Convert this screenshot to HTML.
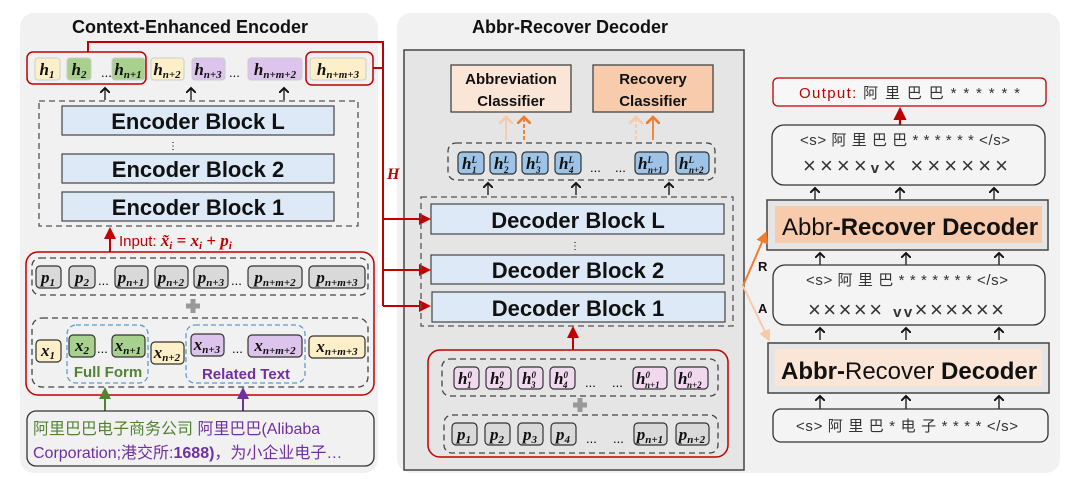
<!DOCTYPE html>
<html><head><meta charset="utf-8"><style>
body{margin:0;background:#fff}
svg{display:block}
.t{font-family:"Liberation Sans","Noto Sans CJK SC",sans-serif}
.m{font-family:"Liberation Serif",serif;font-style:italic;font-weight:bold;font-size:17px;fill:#111}
.s{font-size:11px}
.blk{font-family:"Liberation Sans",sans-serif;font-weight:bold;font-size:22px;fill:#111}
.cn{font-family:"Liberation Sans","Noto Sans CJK SC",sans-serif;font-size:15px;fill:#333}
.x{font-family:"Liberation Sans",sans-serif;font-size:22px;fill:#333}
</style></head><body>
<svg width="1080" height="479" viewBox="0 0 1080 479" xmlns="http://www.w3.org/2000/svg">
<defs>
<marker id="ak" markerWidth="8" markerHeight="8" refX="4" refY="4" orient="auto"><path d="M0,0 L4,4 L0,8" fill="none" stroke="#111" stroke-width="1.5"/></marker>
<marker id="ar" markerWidth="6" markerHeight="6" refX="5" refY="3" orient="auto"><path d="M0,0 L6,3 L0,6z" fill="#c00000"/></marker>
<marker id="ao" markerWidth="6" markerHeight="6" refX="5" refY="3" orient="auto"><path d="M0,0 L6,3 L0,6z" fill="#ed7d31"/></marker>
<marker id="al" markerWidth="6" markerHeight="6" refX="5" refY="3" orient="auto"><path d="M0,0 L6,3 L0,6z" fill="#f8c9a6"/></marker>
<marker id="ao2" markerWidth="8" markerHeight="8" refX="4" refY="4" orient="auto"><path d="M0,0 L4,4 L0,8" fill="none" stroke="#ed7d31" stroke-width="1.5"/></marker>
<marker id="al2" markerWidth="8" markerHeight="8" refX="4" refY="4" orient="auto"><path d="M0,0 L4,4 L0,8" fill="none" stroke="#f8c9a6" stroke-width="1.5"/></marker>
<marker id="ag" markerWidth="6" markerHeight="6" refX="5" refY="3" orient="auto"><path d="M0,0 L6,3 L0,6z" fill="#548235"/></marker>
<marker id="ap" markerWidth="6" markerHeight="6" refX="5" refY="3" orient="auto"><path d="M0,0 L6,3 L0,6z" fill="#7030a0"/></marker>
</defs>

<rect x="20" y="13" width="358" height="460" rx="14" fill="#f1f1f1"/>
<rect x="397" y="13" width="663" height="460" rx="14" fill="#f1f1f1"/>
<rect x="404" y="50" width="340" height="420" fill="#e5e5e5" stroke="#444" stroke-width="1.5"/>

<text x="190" y="33" class="t" font-weight="bold" font-size="18" text-anchor="middle" fill="#111">Context-Enhanced Encoder</text>
<text x="570" y="33" class="t" font-weight="bold" font-size="18" text-anchor="middle" fill="#111">Abbr-Recover Decoder</text>

<g stroke="#ccc" stroke-width="1">
<rect x="35" y="58" width="25" height="22" rx="3" fill="#fdf0c8"/>
<rect x="67" y="58" width="24" height="22" rx="3" fill="#a9d18e"/>
<rect x="112" y="58" width="33" height="22" rx="3" fill="#a9d18e"/>
<rect x="151" y="58" width="33" height="22" rx="3" fill="#fdf0c8"/>
<rect x="192" y="58" width="33" height="22" rx="3" fill="#dcc4ec"/>
<rect x="248" y="58" width="54" height="22" rx="3" fill="#dcc4ec"/>
<rect x="310" y="58" width="56" height="22" rx="3" fill="#fdf0c8"/>
</g>
<g class="m" text-anchor="middle">
<text x="47" y="75">h<tspan class="s" dy="3">1</tspan></text>
<text x="79" y="75">h<tspan class="s" dy="3">2</tspan></text>
<text x="128" y="75">h<tspan class="s" dy="3">n+1</tspan></text>
<text x="167" y="75">h<tspan class="s" dy="3">n+2</tspan></text>
<text x="208" y="75">h<tspan class="s" dy="3">n+3</tspan></text>
<text x="275" y="75">h<tspan class="s" dy="3">n+m+2</tspan></text>
<text x="338" y="75">h<tspan class="s" dy="3">n+m+3</tspan></text>
</g>
<text x="101" y="77" font-size="13" class="t">...</text>
<text x="229" y="77" font-size="13" class="t">...</text>
<rect x="27" y="52" width="119" height="32" rx="6" fill="none" stroke="#c00000" stroke-width="1.5"/>
<rect x="306" y="52" width="67" height="33" rx="6" fill="none" stroke="#c00000" stroke-width="1.5"/>
<g stroke="#111" stroke-width="1.3" marker-end="url(#ak)">
<line x1="105" y1="100" x2="105" y2="88"/><line x1="191" y1="100" x2="191" y2="88"/><line x1="284" y1="100" x2="284" y2="88"/>
</g>

<rect x="39" y="101" width="319" height="125" fill="none" stroke="#555" stroke-dasharray="6,4" stroke-width="1.3"/>
<g fill="#dde9f7" stroke="#444" stroke-width="1.2">
<rect x="62" y="106" width="272" height="29"/><rect x="62" y="154" width="272" height="29"/><rect x="62" y="192" width="272" height="29"/>
</g>
<g class="blk" text-anchor="middle">
<text x="198" y="129">Encoder Block L</text><text x="198" y="177">Encoder Block 2</text><text x="198" y="215">Encoder Block 1</text>
</g>
<text x="168" y="149" font-size="10" class="t">⋮</text>

<line x1="110" y1="252" x2="110" y2="229" stroke="#c00000" stroke-width="2" marker-end="url(#ar)"/>
<text x="119" y="246" font-size="15" fill="#c00000" class="t">Input: <tspan font-family="Liberation Serif" font-style="italic" font-weight="bold" font-size="17">x̃<tspan font-size="11" dy="3">i</tspan><tspan dy="-3"> = x</tspan><tspan font-size="11" dy="3">i</tspan><tspan dy="-3"> + p</tspan><tspan font-size="11" dy="3">i</tspan></tspan></text>

<rect x="26" y="252" width="348" height="143" rx="12" fill="none" stroke="#c00000" stroke-width="1.5"/>
<rect x="32" y="258" width="336" height="37" rx="8" fill="none" stroke="#444" stroke-dasharray="6,4" stroke-width="1.3"/>
<g fill="#d9d9d9" stroke="#333" stroke-width="1.2">
<rect x="36" y="266" width="25" height="22" rx="4"/><rect x="69" y="266" width="26" height="22" rx="4"/>
<rect x="115" y="266" width="33" height="22" rx="4"/><rect x="155" y="266" width="33" height="22" rx="4"/>
<rect x="194" y="266" width="34" height="22" rx="4"/><rect x="248" y="266" width="54" height="22" rx="4"/>
<rect x="309" y="266" width="56" height="22" rx="4"/>
</g>
<g class="m" text-anchor="middle">
<text x="48" y="283">p<tspan class="s" dy="3">1</tspan></text>
<text x="82" y="283">p<tspan class="s" dy="3">2</tspan></text>
<text x="131" y="283">p<tspan class="s" dy="3">n+1</tspan></text>
<text x="171" y="283">p<tspan class="s" dy="3">n+2</tspan></text>
<text x="211" y="283">p<tspan class="s" dy="3">n+3</tspan></text>
<text x="275" y="283">p<tspan class="s" dy="3">n+m+2</tspan></text>
<text x="337" y="283">p<tspan class="s" dy="3">n+m+3</tspan></text>
</g>
<text x="98" y="285" font-size="13" class="t">...</text>
<text x="231" y="285" font-size="13" class="t">...</text>
<path d="M193,299 V313 M186,306 H200" stroke="#999" stroke-width="5"/>

<rect x="32" y="318" width="336" height="69" rx="10" fill="none" stroke="#444" stroke-dasharray="6,4" stroke-width="1.3"/>
<rect x="67" y="325" width="81" height="58" rx="9" fill="none" stroke="#5b9bd5" stroke-dasharray="5,3" stroke-width="1.3"/>
<rect x="186" y="325" width="119" height="58" rx="9" fill="none" stroke="#5b9bd5" stroke-dasharray="5,3" stroke-width="1.3"/>
<g stroke="#333" stroke-width="1.2">
<rect x="36" y="340" width="25" height="22" rx="4" fill="#fdf0c8"/>
<rect x="69" y="335" width="26" height="22" rx="4" fill="#a9d18e"/>
<rect x="112" y="335" width="33" height="22" rx="4" fill="#a9d18e"/>
<rect x="151" y="342" width="33" height="22" rx="4" fill="#fdf0c8"/>
<rect x="191" y="334" width="33" height="22" rx="4" fill="#dcc4ec"/>
<rect x="248" y="335" width="54" height="22" rx="4" fill="#dcc4ec"/>
<rect x="309" y="336" width="56" height="22" rx="4" fill="#fdf0c8"/>
</g>
<g class="m" text-anchor="middle">
<text x="48" y="356">x<tspan class="s" dy="3">1</tspan></text>
<text x="82" y="351">x<tspan class="s" dy="3">2</tspan></text>
<text x="128" y="351">x<tspan class="s" dy="3">n+1</tspan></text>
<text x="167" y="358">x<tspan class="s" dy="3">n+2</tspan></text>
<text x="207" y="350">x<tspan class="s" dy="3">n+3</tspan></text>
<text x="275" y="351">x<tspan class="s" dy="3">n+m+2</tspan></text>
<text x="337" y="352">x<tspan class="s" dy="3">n+m+3</tspan></text>
</g>
<text x="97" y="353" font-size="13" class="t">...</text>
<text x="232" y="353" font-size="13" class="t">...</text>
<text x="108" y="377" class="t" font-weight="bold" font-size="15" fill="#548235" text-anchor="middle">Full Form</text>
<text x="246" y="379" class="t" font-weight="bold" font-size="15" fill="#7030a0" text-anchor="middle">Related Text</text>

<line x1="105" y1="411" x2="105" y2="389" stroke="#548235" stroke-width="2" marker-end="url(#ag)"/>
<line x1="243" y1="411" x2="243" y2="389" stroke="#7030a0" stroke-width="2" marker-end="url(#ap)"/>
<rect x="27" y="411" width="347" height="55" rx="9" fill="#f1f1f1" stroke="#333" stroke-width="1.3"/>
<text x="33" y="434" class="t" font-size="16"><tspan fill="#548235">阿里巴巴电子商务公司</tspan><tspan fill="#7030a0"> 阿里巴巴(Alibaba</tspan></text>
<text x="33" y="458" class="t" font-size="16" fill="#7030a0">Corporation;港交所:<tspan font-weight="bold">1688)</tspan>，为小企业电子…</text>

<g stroke="#c00000" stroke-width="2" fill="none">
<path d="M88,52 V42 H383 V306"/>
<path d="M373,68 H383"/>
<line x1="383" y1="219" x2="429" y2="219" marker-end="url(#ar)"/>
<line x1="383" y1="270" x2="429" y2="270" marker-end="url(#ar)"/>
<line x1="383" y1="306" x2="429" y2="306" marker-end="url(#ar)"/>
</g>
<text x="387" y="179" fill="#c00000" font-family="Liberation Serif" font-style="italic" font-weight="bold" font-size="16">H</text>

<rect x="451" y="65" width="120" height="47" fill="#fbe5d6" stroke="#444" stroke-width="1.3"/>
<rect x="593" y="65" width="120" height="47" fill="#f8cbad" stroke="#444" stroke-width="1.3"/>
<g class="t" font-weight="bold" font-size="15" text-anchor="middle" fill="#111">
<text x="511" y="84">Abbreviation</text><text x="511" y="106">Classifier</text>
<text x="653" y="84">Recovery</text><text x="653" y="106">Classifier</text>
</g>
<g stroke-width="1.8">
<line x1="506" y1="140" x2="506" y2="117" stroke="#f8c9a6" marker-end="url(#al2)"/>
<line x1="524" y1="140" x2="524" y2="117" stroke="#ed7d31" stroke-dasharray="4,2" marker-end="url(#ao2)"/>
<line x1="636" y1="140" x2="636" y2="117" stroke="#f8c9a6" stroke-dasharray="4,2" marker-end="url(#al2)"/>
<line x1="653" y1="140" x2="653" y2="117" stroke="#ed7d31" marker-end="url(#ao2)"/>
</g>
<rect x="448" y="143" width="267" height="37" rx="8" fill="none" stroke="#444" stroke-dasharray="6,4" stroke-width="1.3"/>
<g fill="#9dc3e6" stroke="#333" stroke-width="1.2">
<rect x="458" y="152" width="26" height="22" rx="4"/><rect x="490" y="152" width="26" height="22" rx="4"/>
<rect x="522" y="152" width="26" height="22" rx="4"/><rect x="555" y="152" width="26" height="22" rx="4"/>
<rect x="635" y="152" width="33" height="22" rx="4"/><rect x="676" y="152" width="33" height="22" rx="4"/>
</g>
<g class="m" font-size="16">
<text x="462" y="169">h<tspan font-size="9" dy="-6">L</tspan><tspan font-size="9" dx="-5" dy="10">1</tspan></text>
<text x="494" y="169">h<tspan font-size="9" dy="-6">L</tspan><tspan font-size="9" dx="-5" dy="10">2</tspan></text>
<text x="526" y="169">h<tspan font-size="9" dy="-6">L</tspan><tspan font-size="9" dx="-5" dy="10">3</tspan></text>
<text x="559" y="169">h<tspan font-size="9" dy="-6">L</tspan><tspan font-size="9" dx="-5" dy="10">4</tspan></text>
<text x="638" y="169">h<tspan font-size="9" dy="-6">L</tspan><tspan font-size="9" dx="-5" dy="10">n+1</tspan></text>
<text x="679" y="169">h<tspan font-size="9" dy="-6">L</tspan><tspan font-size="9" dx="-5" dy="10">n+2</tspan></text>
</g>
<text x="590" y="172" font-size="13" class="t">...</text><text x="615" y="172" font-size="13" class="t">...</text>
<g stroke="#111" stroke-width="1.3" marker-end="url(#ak)">
<line x1="488" y1="195" x2="488" y2="183"/><line x1="576" y1="195" x2="576" y2="183"/><line x1="669" y1="195" x2="669" y2="183"/>
</g>
<rect x="421" y="197" width="312" height="129" fill="none" stroke="#555" stroke-dasharray="6,4" stroke-width="1.3"/>
<g fill="#dde9f7" stroke="#444" stroke-width="1.2">
<rect x="431" y="204" width="293" height="30"/><rect x="431" y="255" width="293" height="29"/><rect x="432" y="292" width="293" height="30"/>
</g>
<g class="blk" text-anchor="middle">
<text x="578" y="228">Decoder Block L</text><text x="578" y="278">Decoder Block 2</text><text x="578" y="316">Decoder Block 1</text>
</g>
<text x="570" y="249" font-size="10" class="t">⋮</text>
<line x1="573" y1="350" x2="573" y2="328" stroke="#c00000" stroke-width="2" marker-end="url(#ar)"/>
<rect x="428" y="350" width="300" height="107" rx="12" fill="none" stroke="#c00000" stroke-width="1.5"/>
<rect x="442" y="359" width="276" height="37" rx="8" fill="none" stroke="#444" stroke-dasharray="6,4" stroke-width="1.3"/>
<g fill="#f0d8ef" stroke="#333" stroke-width="1.2">
<rect x="454" y="367" width="25" height="22" rx="4"/><rect x="486" y="367" width="25" height="22" rx="4"/>
<rect x="518" y="367" width="25" height="22" rx="4"/><rect x="550" y="367" width="25" height="22" rx="4"/>
<rect x="633" y="367" width="34" height="22" rx="4"/><rect x="675" y="367" width="33" height="22" rx="4"/>
</g>
<g class="m" font-size="16">
<text x="458" y="384">h<tspan font-size="9" dy="-6">0</tspan><tspan font-size="9" dx="-5" dy="10">1</tspan></text>
<text x="490" y="384">h<tspan font-size="9" dy="-6">0</tspan><tspan font-size="9" dx="-5" dy="10">2</tspan></text>
<text x="522" y="384">h<tspan font-size="9" dy="-6">0</tspan><tspan font-size="9" dx="-5" dy="10">3</tspan></text>
<text x="554" y="384">h<tspan font-size="9" dy="-6">0</tspan><tspan font-size="9" dx="-5" dy="10">4</tspan></text>
<text x="636" y="384">h<tspan font-size="9" dy="-6">0</tspan><tspan font-size="9" dx="-5" dy="10">n+1</tspan></text>
<text x="678" y="384">h<tspan font-size="9" dy="-6">0</tspan><tspan font-size="9" dx="-5" dy="10">n+2</tspan></text>
</g>
<text x="585" y="387" font-size="13" class="t">...</text><text x="612" y="387" font-size="13" class="t">...</text>
<path d="M580,398 V412 M573,405 H587" stroke="#999" stroke-width="5"/>
<rect x="444" y="415" width="274" height="38" rx="8" fill="none" stroke="#444" stroke-dasharray="6,4" stroke-width="1.3"/>
<g fill="#d9d9d9" stroke="#333" stroke-width="1.2">
<rect x="452" y="423" width="25" height="22" rx="4"/><rect x="485" y="423" width="25" height="22" rx="4"/>
<rect x="518" y="423" width="25" height="22" rx="4"/><rect x="551" y="423" width="25" height="22" rx="4"/>
<rect x="634" y="423" width="33" height="22" rx="4"/><rect x="676" y="423" width="33" height="22" rx="4"/>
</g>
<g class="m" text-anchor="middle">
<text x="464" y="440">p<tspan class="s" dy="3">1</tspan></text>
<text x="497" y="440">p<tspan class="s" dy="3">2</tspan></text>
<text x="530" y="440">p<tspan class="s" dy="3">3</tspan></text>
<text x="563" y="440">p<tspan class="s" dy="3">4</tspan></text>
<text x="650" y="440">p<tspan class="s" dy="3">n+1</tspan></text>
<text x="692" y="440">p<tspan class="s" dy="3">n+2</tspan></text>
</g>
<text x="586" y="443" font-size="13" class="t">...</text><text x="613" y="443" font-size="13" class="t">...</text>

<!-- RIGHT -->
<rect x="773" y="78" width="273" height="28" rx="5" fill="#f7f7f7" stroke="#c00000" stroke-width="1.3"/>
<text x="799" y="98" class="t" font-size="15" textLength="221" lengthAdjust="spacing"><tspan fill="#c00000">Output:</tspan><tspan fill="#333"> 阿 里 巴 巴 * * * * * *</tspan></text>
<line x1="900" y1="125" x2="900" y2="109" stroke="#c00000" stroke-width="2.2" marker-end="url(#ar)"/>

<rect x="772" y="125" width="273" height="60" rx="12" fill="#f4f4f4" stroke="#333" stroke-width="1.3"/>
<text x="800" y="145" class="cn" textLength="210" lengthAdjust="spacing">&lt;s&gt; 阿 里 巴 巴 * * * * * * &lt;/s&gt;</text>
<text x="803" y="173" class="x" textLength="205" lengthAdjust="spacing">××××<tspan font-weight="bold" font-size="15">v</tspan>× ××××××</text>
<g stroke="#111" stroke-width="1.3" marker-end="url(#ak)">
<line x1="815" y1="202" x2="815" y2="188"/><line x1="900" y1="202" x2="900" y2="188"/><line x1="994" y1="202" x2="994" y2="188"/>
</g>
<rect x="767" y="200" width="281" height="50" fill="#e5e5e5" stroke="#444" stroke-width="1.5"/>
<rect x="775" y="206" width="267" height="37" fill="#f8cbad"/>
<text x="782" y="235" class="t" font-size="24" fill="#111">Abbr<tspan font-weight="bold">-Recover Decoder</tspan></text>
<g stroke="#111" stroke-width="1.3" marker-end="url(#ak)">
<line x1="820" y1="266" x2="820" y2="253"/><line x1="906" y1="266" x2="906" y2="253"/><line x1="999" y1="266" x2="999" y2="253"/>
</g>
<rect x="773" y="265" width="272" height="60" rx="12" fill="#f4f4f4" stroke="#333" stroke-width="1.3"/>
<text x="806" y="285" class="cn" textLength="202" lengthAdjust="spacing">&lt;s&gt; 阿 里 巴 * * * * * * * &lt;/s&gt;</text>
<text x="808" y="317" class="x" textLength="196" lengthAdjust="spacing">××××× <tspan font-weight="bold" font-size="15">vv</tspan>××××××</text>
<g stroke="#111" stroke-width="1.3" marker-end="url(#ak)">
<line x1="820" y1="340" x2="820" y2="328"/><line x1="906" y1="340" x2="906" y2="328"/><line x1="999" y1="340" x2="999" y2="328"/>
</g>
<rect x="768" y="343" width="281" height="50" fill="#e5e5e5" stroke="#444" stroke-width="1.5"/>
<rect x="775" y="349" width="267" height="37" fill="#fbe5d6"/>
<text x="781" y="379" class="t" font-size="24" fill="#111"><tspan font-weight="bold">Abbr-</tspan>Recover <tspan font-weight="bold">Decoder</tspan></text>
<g stroke="#111" stroke-width="1.3" marker-end="url(#ak)">
<line x1="820" y1="410" x2="820" y2="396"/><line x1="906" y1="410" x2="906" y2="396"/><line x1="999" y1="410" x2="999" y2="396"/>
</g>
<rect x="773" y="409" width="275" height="33" rx="8" fill="#f4f4f4" stroke="#333" stroke-width="1.3"/>
<text x="796" y="431" class="cn" textLength="222" lengthAdjust="spacing">&lt;s&gt; 阿 里 巴 * 电 子 * * * *  &lt;/s&gt;</text>

<line x1="743" y1="286" x2="766" y2="233" stroke="#ed7d31" stroke-width="2" marker-end="url(#ao)"/>
<line x1="743" y1="286" x2="769" y2="340" stroke="#f8c9a6" stroke-width="2" marker-end="url(#al)"/>
<text x="758" y="271" class="t" font-weight="bold" font-size="13" fill="#111">R</text>
<text x="758" y="313" class="t" font-weight="bold" font-size="13" fill="#111">A</text>
</svg>
</body></html>
